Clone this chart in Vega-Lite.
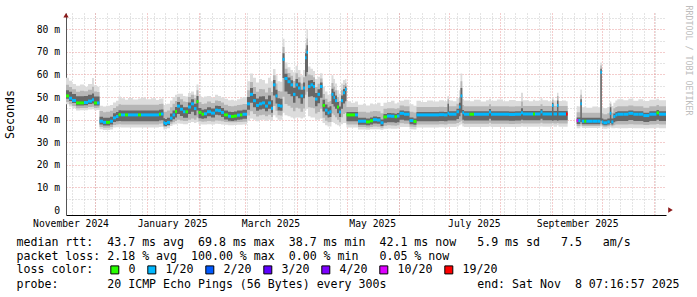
{
"$schema":"https://vega.github.io/schema/vega-lite/v6.json",
"width":600,"height":202,
"autosize":{"type":"none"},
"padding":{"left":66,"top":13,"right":31,"bottom":82},
"background":"#ffffff",
"config":{"view":{"stroke":null},"axis":{"gridOpacity":1}},
"title":{"text":["median rtt:\u00a0\u00a043.7\u00a0ms\u00a0avg\u00a0\u00a069.8\u00a0ms\u00a0max\u00a0\u00a038.7\u00a0ms\u00a0min\u00a0\u00a042.1\u00a0ms\u00a0now\u00a0\u00a0\u00a05.9\u00a0ms\u00a0sd\u00a0\u00a0\u00a07.5\u00a0\u00a0\u00a0am/s","packet\u00a0loss:\u00a02.18\u00a0%\u00a0avg\u00a0\u00a0100.00\u00a0%\u00a0max\u00a0\u00a00.00\u00a0%\u00a0min\u00a0\u00a0\u00a00.05\u00a0%\u00a0now"],
"subtitle":"probe:\u00a0\u00a0\u00a0\u00a0\u00a0\u00a0\u00a020\u00a0ICMP\u00a0Echo\u00a0Pings\u00a0(56\u00a0Bytes)\u00a0every\u00a0300s\u00a0\u00a0\u00a0\u00a0\u00a0\u00a0\u00a0\u00a0\u00a0\u00a0\u00a0\u00a0\u00a0end:\u00a0Sat\u00a0Nov\u00a0\u00a08\u00a007:16:57\u00a02025",
"orient":"bottom","anchor":"start","frame":"group","dx":-49.5,"offset":-39,"limit":1000,
"font":"DejaVu Sans Mono","fontSize":11.6,"fontWeight":"normal","color":"#000000","lineHeight":14,
"subtitleFont":"DejaVu Sans Mono","subtitleFontSize":11.6,"subtitleFontWeight":"normal","subtitleColor":"#000000","subtitleLineHeight":14,"subtitlePadding":16.4},
"data":{"values":[
{"t":"2024-11-13T07:17","m":50.5,"a":46.8,"b":47.8,"c":49.2,"d":53,"e":55.5,"f":58.5,"l":"0"},
{"t":"2024-11-15T02:00","m":49.5,"a":45.8,"b":46.8,"c":48.3,"d":52.3,"e":54.5,"f":57.2,"l":"1/20"},
{"t":"2024-11-16T22:00","m":48.5,"a":45,"b":46,"c":47.4,"d":51.4,"e":53.5,"f":55.8,"l":"1/20"},
{"t":"2024-11-19T07:00","m":47.4,"a":44,"b":45,"c":46.3,"d":50.4,"e":52.4,"f":55,"l":"0"},
{"t":"2024-11-21T17:00","m":47.4,"a":44.2,"b":45.2,"c":46.3,"d":50.4,"e":52.8,"f":55.6,"l":"0"},
{"t":"2024-11-24T02:00","m":47.6,"a":44.2,"b":45.2,"c":46.4,"d":50.5,"e":52.6,"f":54.6,"l":"1/20"},
{"t":"2024-11-26T12:00","m":48.2,"a":44.5,"b":45.6,"c":46.9,"d":51,"e":53.2,"f":55.8,"l":"1/20"},
{"t":"2024-11-28T22:00","m":48.8,"a":44.6,"b":45.7,"c":47.2,"d":51.6,"e":54.6,"f":58.4,"l":"1/20"},
{"t":"2024-11-30T02:00","m":47.4,"a":44.2,"b":45.2,"c":46.3,"d":50.3,"e":52.5,"f":55.2,"l":"0"},
{"t":"2024-12-01T22:00","m":47.4,"a":44.3,"b":45.3,"c":46.3,"d":50.2,"e":52.2,"f":54.6,"l":"1/20"},
{"t":"2024-12-03T10:00","m":39.3,"a":35.8,"b":36.8,"c":37.8,"d":41.3,"e":43.8,"f":46.2,"l":"1/20"},
{"t":"2024-12-05T12:00","m":38.8,"a":35.4,"b":36.4,"c":37.4,"d":40.8,"e":43.3,"f":45.8,"l":"1/20"},
{"t":"2024-12-07T07:00","m":38.8,"a":35.4,"b":36.4,"c":37.4,"d":40.8,"e":43.5,"f":46.2,"l":"0"},
{"t":"2024-12-09T17:00","m":39.3,"a":35.6,"b":36.7,"c":37.8,"d":41.3,"e":43.9,"f":46.5,"l":"1/20"},
{"t":"2024-12-11T12:00","m":40.8,"a":36.5,"b":37.6,"c":39,"d":42.8,"e":45.2,"f":47.6,"l":"1/20"},
{"t":"2024-12-13T07:00","m":41.4,"a":36.6,"b":37.8,"c":39.3,"d":43.4,"e":45.9,"f":48.4,"l":"1/20"},
{"t":"2024-12-14T19:00","m":42.2,"a":36.6,"b":38,"c":39.4,"d":44.2,"e":46.8,"f":50.2,"l":"0"},
{"t":"2024-12-16T07:00","m":42.1,"a":36.5,"b":37.9,"c":39.3,"d":44.1,"e":46.6,"f":49.5,"l":"1/20"},
{"t":"2024-12-18T17:00","m":42.1,"a":36.5,"b":37.9,"c":39.3,"d":44.1,"e":46.6,"f":48.8,"l":"0"},
{"t":"2024-12-20T12:00","m":42.1,"a":36.5,"b":37.9,"c":39.3,"d":44.1,"e":46.6,"f":49.6,"l":"1/20"},
{"t":"2024-12-23T12:00","m":42.1,"a":36.5,"b":37.9,"c":39.3,"d":44.1,"e":46.6,"f":48.9,"l":"1/20"},
{"t":"2024-12-26T12:00","m":42.1,"a":36.5,"b":37.9,"c":39.3,"d":44.1,"e":46.6,"f":49.4,"l":"0"},
{"t":"2024-12-28T07:00","m":42.1,"a":36.5,"b":37.9,"c":39.3,"d":44.1,"e":46.6,"f":49.8,"l":"1/20"},
{"t":"2024-12-31T07:00","m":42.1,"a":36.5,"b":37.9,"c":39.3,"d":44.1,"e":46.6,"f":49,"l":"1/20"},
{"t":"2025-01-03T07:00","m":42.1,"a":36.5,"b":37.9,"c":39.3,"d":44.1,"e":46.6,"f":49.5,"l":"1/20"},
{"t":"2025-01-06T07:00","m":42.1,"a":36.5,"b":37.9,"c":39.3,"d":44.1,"e":46.6,"f":48.7,"l":"1/20"},
{"t":"2025-01-08T02:00","m":42.4,"a":36.8,"b":38.2,"c":39.6,"d":44.4,"e":46.9,"f":49.2,"l":"0"},
{"t":"2025-01-09T07:00","m":42.5,"a":36.9,"b":38.3,"c":39.7,"d":44.5,"e":47,"f":49.4,"l":"1/20"},
{"t":"2025-01-10T19:00","m":38.6,"a":35.6,"b":36.6,"c":37.3,"d":40.6,"e":43.5,"f":46.5,"l":"1/20"},
{"t":"2025-01-11T17:00","m":38.3,"a":35.8,"b":36.8,"c":37.2,"d":40.3,"e":43.5,"f":46.8,"l":"1/20"},
{"t":"2025-01-12T22:00","m":38.8,"a":36.2,"b":37.2,"c":37.6,"d":40.8,"e":44,"f":47,"l":"1/20"},
{"t":"2025-01-14T17:00","m":40.7,"a":37.2,"b":38.2,"c":39.2,"d":42.7,"e":45.5,"f":48.5,"l":"1/20"},
{"t":"2025-01-16T05:00","m":42.1,"a":37.8,"b":38.9,"c":40.2,"d":44.1,"e":47,"f":50,"l":"1/20"},
{"t":"2025-01-17T17:00","m":43.6,"a":38,"b":39.4,"c":41,"d":45.6,"e":48.3,"f":51,"l":"0"},
{"t":"2025-01-18T22:00","m":46,"a":38.3,"b":40,"c":42.5,"d":47.8,"e":50,"f":51.5,"l":"1/20"},
{"t":"2025-01-20T17:00","m":44.6,"a":38.2,"b":39.6,"c":41.6,"d":46.6,"e":49,"f":51.5,"l":"1/20"},
{"t":"2025-01-22T12:00","m":43.5,"a":38,"b":39.4,"c":40.8,"d":45.5,"e":48,"f":50.5,"l":"1/20"},
{"t":"2025-01-24T00:00","m":43.5,"a":38,"b":39.4,"c":40.8,"d":45.5,"e":47.8,"f":50.2,"l":"0"},
{"t":"2025-01-25T12:00","m":45.6,"a":38.5,"b":40,"c":42.5,"d":47.6,"e":50,"f":51.8,"l":"1/20"},
{"t":"2025-01-27T07:00","m":47,"a":39,"b":40.5,"c":43.5,"d":49,"e":51,"f":52.5,"l":"1/20"},
{"t":"2025-01-29T02:00","m":44.9,"a":38.5,"b":40,"c":42,"d":47,"e":49.5,"f":51,"l":"1/20"},
{"t":"2025-01-30T14:00","m":48,"a":39,"b":41,"c":44,"d":50.5,"e":53,"f":55.6,"l":"0"},
{"t":"2025-01-31T19:00","m":43.2,"a":38,"b":39.3,"c":40.6,"d":45.2,"e":47.8,"f":50.5,"l":"0"},
{"t":"2025-02-02T14:00","m":42.4,"a":37.8,"b":39.1,"c":40.4,"d":44.4,"e":46.9,"f":49.8,"l":"0"},
{"t":"2025-02-04T02:00","m":42.6,"a":37.9,"b":39.2,"c":40.6,"d":44.6,"e":47.1,"f":50.3,"l":"1/20"},
{"t":"2025-02-05T22:00","m":43.5,"a":38,"b":39.4,"c":41.5,"d":45.5,"e":48,"f":50.5,"l":"1/20"},
{"t":"2025-02-08T07:00","m":42.9,"a":37.8,"b":39.2,"c":40.9,"d":44.9,"e":47.4,"f":49.6,"l":"1/20"},
{"t":"2025-02-10T17:00","m":44.2,"a":38.2,"b":39.6,"c":42.2,"d":46.2,"e":48.5,"f":51,"l":"1/20"},
{"t":"2025-02-12T12:00","m":44,"a":38.1,"b":39.5,"c":42,"d":46,"e":48.3,"f":50.5,"l":"1/20"},
{"t":"2025-02-14T07:00","m":43.2,"a":37.9,"b":39.3,"c":41.2,"d":45.2,"e":47.6,"f":49.8,"l":"1/20"},
{"t":"2025-02-16T02:00","m":42.1,"a":37.7,"b":39,"c":40.1,"d":44.1,"e":46.6,"f":49.2,"l":"0"},
{"t":"2025-02-18T12:00","m":41.5,"a":37.5,"b":38.8,"c":39.5,"d":43.5,"e":46,"f":48.6,"l":"1/20"},
{"t":"2025-02-20T07:00","m":41.4,"a":37.5,"b":38.8,"c":39.4,"d":43.4,"e":45.9,"f":48.8,"l":"0"},
{"t":"2025-02-22T02:00","m":41.6,"a":37.6,"b":38.9,"c":39.6,"d":43.6,"e":46.1,"f":48.4,"l":"0"},
{"t":"2025-02-23T22:00","m":42,"a":37.7,"b":39,"c":40,"d":44,"e":46.5,"f":49,"l":"1/20"},
{"t":"2025-02-25T17:00","m":42.1,"a":37.7,"b":39,"c":40.1,"d":44.1,"e":46.6,"f":49.5,"l":"0"},
{"t":"2025-02-27T05:00","m":42.4,"a":37.8,"b":39.1,"c":40.4,"d":44.4,"e":46.9,"f":50,"l":"1/20"},
{"t":"2025-03-01T22:00","m":47,"a":39.5,"b":41.8,"c":44.4,"d":50,"e":53,"f":57,"l":"1/20"},
{"t":"2025-03-03T17:00","m":51.2,"a":40.5,"b":43.7,"c":47.5,"d":54,"e":56.7,"f":60.4,"l":"1/20"},
{"t":"2025-03-05T12:00","m":48.4,"a":40,"b":42.5,"c":45.5,"d":51.4,"e":54.5,"f":58.5,"l":"1/20"},
{"t":"2025-03-07T07:00","m":46.3,"a":39.3,"b":41.4,"c":43.9,"d":49.4,"e":52.4,"f":56.5,"l":"1/20"},
{"t":"2025-03-09T02:00","m":47,"a":39.8,"b":42,"c":44.5,"d":50.3,"e":53.6,"f":58,"l":"1/20"},
{"t":"2025-03-10T22:00","m":47.4,"a":40,"b":42.2,"c":44.8,"d":50.4,"e":53.5,"f":57.5,"l":"1/20"},
{"t":"2025-03-12T17:00","m":46,"a":39.5,"b":41.5,"c":43.7,"d":49,"e":52,"f":56,"l":"1/20"},
{"t":"2025-03-14T12:00","m":47.4,"a":40,"b":42.2,"c":44.8,"d":50.7,"e":54.1,"f":58.5,"l":"1/20"},
{"t":"2025-03-16T07:00","m":45,"a":39.5,"b":41.2,"c":43.1,"d":48.6,"e":52.2,"f":57,"l":"1/20"},
{"t":"2025-03-17T12:00","m":55.4,"a":42,"b":46,"c":50.7,"d":57.5,"e":59.6,"f":62.4,"l":"1/20"},
{"t":"2025-03-19T00:00","m":50.5,"a":41,"b":43.9,"c":47.2,"d":53.2,"e":56,"f":59.6,"l":"1/20"},
{"t":"2025-03-20T05:00","m":46.3,"a":40,"b":41.9,"c":44.1,"d":49.5,"e":52.7,"f":57,"l":"1/20"},
{"t":"2025-03-21T17:00","m":46,"a":40,"b":41.8,"c":43.9,"d":49.2,"e":52.5,"f":56.8,"l":"1/20"},
{"t":"2025-03-23T05:00","m":66.7,"a":43,"b":50.1,"c":58.4,"d":69.4,"e":72.2,"f":75.8,"l":"1/20"},
{"t":"2025-03-24T10:00","m":58.2,"a":42,"b":46.9,"c":52.5,"d":60.3,"e":62.5,"f":65.3,"l":"1/20"},
{"t":"2025-03-26T05:00","m":56.8,"a":41.5,"b":46.1,"c":51.4,"d":58.7,"e":60.6,"f":63.2,"l":"1/20"},
{"t":"2025-03-28T00:00","m":55.4,"a":41,"b":45.3,"c":50.4,"d":57.4,"e":59.4,"f":62,"l":"1/20"},
{"t":"2025-03-29T12:00","m":51.2,"a":40.5,"b":43.7,"c":47.5,"d":54.1,"e":57.1,"f":61,"l":"1/20"},
{"t":"2025-03-31T00:00","m":55.4,"a":41,"b":45.3,"c":50.4,"d":58,"e":60.5,"f":63.9,"l":"1/20"},
{"t":"2025-04-01T12:00","m":54,"a":41,"b":44.9,"c":49.5,"d":56.4,"e":58.8,"f":62,"l":"1/20"},
{"t":"2025-04-03T00:00","m":50.5,"a":40.5,"b":43.5,"c":47,"d":53.2,"e":56,"f":59.6,"l":"1/20"},
{"t":"2025-04-04T12:00","m":54,"a":41,"b":44.9,"c":49.5,"d":56.4,"e":58.8,"f":62,"l":"1/20"},
{"t":"2025-04-05T17:00","m":67.4,"a":44,"b":51,"c":59.2,"d":69.4,"e":71.4,"f":74,"l":"1/20"},
{"t":"2025-04-06T14:00","m":69.8,"a":45,"b":52.4,"c":61.1,"d":72.9,"e":75.9,"f":80,"l":"1/20"},
{"t":"2025-04-07T12:00","m":54.7,"a":41.5,"b":45.5,"c":50.1,"d":57.3,"e":60,"f":63.5,"l":"1/20"},
{"t":"2025-04-09T00:00","m":55.4,"a":41,"b":45.3,"c":50.4,"d":57.5,"e":59.7,"f":62.5,"l":"1/20"},
{"t":"2025-04-10T12:00","m":54.7,"a":41,"b":45.1,"c":49.9,"d":56.7,"e":58.8,"f":61.5,"l":"1/20"},
{"t":"2025-04-11T17:00","m":49.1,"a":40,"b":42.7,"c":45.9,"d":51.8,"e":54.4,"f":58,"l":"1/20"},
{"t":"2025-04-13T05:00","m":51.2,"a":40,"b":43.4,"c":47.3,"d":53.5,"e":55.9,"f":59,"l":"1/20"},
{"t":"2025-04-14T17:00","m":54.7,"a":40.5,"b":44.8,"c":49.7,"d":56.4,"e":58.2,"f":60.5,"l":"1/20"},
{"t":"2025-04-16T05:00","m":46.3,"a":38.5,"b":40.8,"c":43.6,"d":48.8,"e":51.3,"f":54.7,"l":"0"},
{"t":"2025-04-17T17:00","m":44.2,"a":37.5,"b":39.5,"c":41.9,"d":46.7,"e":49.2,"f":52.5,"l":"1/20"},
{"t":"2025-04-19T05:00","m":43,"a":37,"b":38.8,"c":40.9,"d":45.4,"e":47.8,"f":51,"l":"1/20"},
{"t":"2025-04-20T10:00","m":43.5,"a":37,"b":39,"c":41.2,"d":45.9,"e":48.3,"f":51.5,"l":"1/20"},
{"t":"2025-04-21T14:00","m":51.2,"a":39,"b":42.7,"c":46.9,"d":53.7,"e":56.2,"f":59.6,"l":"1/20"},
{"t":"2025-04-22T19:00","m":49.8,"a":38.5,"b":41.9,"c":45.8,"d":52.3,"e":54.7,"f":58,"l":"1/20"},
{"t":"2025-04-23T17:00","m":48.4,"a":38,"b":41.1,"c":44.8,"d":50.7,"e":53,"f":56,"l":"1/20"},
{"t":"2025-04-24T22:00","m":45.6,"a":37.5,"b":39.9,"c":42.8,"d":47.8,"e":50,"f":53,"l":"0"},
{"t":"2025-04-26T02:00","m":43.4,"a":37,"b":38.9,"c":41.2,"d":45.8,"e":48.3,"f":51.5,"l":"1/20"},
{"t":"2025-04-27T07:00","m":48.4,"a":38,"b":41.1,"c":44.8,"d":50.7,"e":53,"f":56,"l":"1/20"},
{"t":"2025-04-28T12:00","m":51.9,"a":38.5,"b":42.5,"c":47.2,"d":53.6,"e":55.3,"f":57.5,"l":"1/20"},
{"t":"2025-04-29T17:00","m":53.3,"a":38.5,"b":42.9,"c":48.1,"d":54.7,"e":56.1,"f":58,"l":"1/20"},
{"t":"2025-04-30T14:00","m":42.1,"a":36.5,"b":37.9,"c":39.3,"d":43.4,"e":45.6,"f":48.2,"l":"0"},
{"t":"2025-05-03T07:00","m":42.1,"a":36.5,"b":37.9,"c":39.3,"d":43.4,"e":45.6,"f":47.5,"l":"0"},
{"t":"2025-05-05T17:00","m":42.1,"a":36.5,"b":37.9,"c":39.3,"d":43.4,"e":45.6,"f":48,"l":"1/20"},
{"t":"2025-05-07T12:00","m":39.3,"a":35.6,"b":36.7,"c":37.7,"d":40.8,"e":43.5,"f":46.6,"l":"1/20"},
{"t":"2025-05-10T12:00","m":39.3,"a":35.6,"b":36.7,"c":37.7,"d":40.8,"e":43.5,"f":47,"l":"1/20"},
{"t":"2025-05-12T07:00","m":39,"a":35.5,"b":36.5,"c":37.5,"d":40.5,"e":43.2,"f":46.3,"l":"0"},
{"t":"2025-05-14T17:00","m":39.5,"a":35.7,"b":36.8,"c":37.9,"d":41,"e":43.6,"f":47.2,"l":"0"},
{"t":"2025-05-16T12:00","m":40,"a":35.8,"b":37,"c":38.3,"d":41.4,"e":43.8,"f":46.8,"l":"1/20"},
{"t":"2025-05-18T22:00","m":39.8,"a":35.8,"b":36.9,"c":38.2,"d":41.2,"e":43.7,"f":47.5,"l":"1/20"},
{"t":"2025-05-21T00:00","m":38.6,"a":35.5,"b":36.4,"c":37.2,"d":40.1,"e":42.8,"f":46,"l":"1/20"},
{"t":"2025-05-22T19:00","m":41.2,"a":36,"b":37.3,"c":38.6,"d":42.5,"e":44.8,"f":47.5,"l":"0"},
{"t":"2025-05-24T22:00","m":41.6,"a":36.1,"b":37.5,"c":38.9,"d":42.9,"e":45.1,"f":47.8,"l":"1/20"},
{"t":"2025-05-27T07:00","m":41.5,"a":36,"b":37.4,"c":38.8,"d":42.8,"e":45,"f":48.4,"l":"1/20"},
{"t":"2025-05-29T10:00","m":41.3,"a":36,"b":37.3,"c":38.6,"d":42.6,"e":44.8,"f":47.2,"l":"0"},
{"t":"2025-05-30T22:00","m":41.6,"a":36.1,"b":37.5,"c":38.9,"d":42.9,"e":45.1,"f":47.6,"l":"1/20"},
{"t":"2025-06-01T10:00","m":42.8,"a":36.8,"b":38.4,"c":40,"d":44.1,"e":46.3,"f":48.4,"l":"1/20"},
{"t":"2025-06-04T02:00","m":42.4,"a":36.8,"b":38.2,"c":39.6,"d":43.7,"e":45.9,"f":48.8,"l":"1/20"},
{"t":"2025-06-07T10:00","m":39.6,"a":35.8,"b":36.9,"c":38,"d":40.9,"e":43.5,"f":46.8,"l":"1/20"},
{"t":"2025-06-09T19:00","m":39.2,"a":35.6,"b":36.7,"c":37.7,"d":40.5,"e":43.2,"f":46.2,"l":"0"},
{"t":"2025-06-11T14:00","m":42.1,"a":36.5,"b":37.9,"c":39.3,"d":43.4,"e":45.6,"f":48.4,"l":"1/20"},
{"t":"2025-06-14T07:00","m":42.1,"a":36.5,"b":37.9,"c":39.3,"d":43.4,"e":45.6,"f":47.8,"l":"1/20"},
{"t":"2025-06-17T22:00","m":42.1,"a":36.5,"b":37.9,"c":39.3,"d":43.4,"e":45.6,"f":48.5,"l":"1/20"},
{"t":"2025-06-21T12:00","m":42.1,"a":36.5,"b":37.9,"c":39.3,"d":43.4,"e":45.6,"f":48,"l":"1/20"},
{"t":"2025-06-25T02:00","m":42.2,"a":36.6,"b":38,"c":39.4,"d":43.5,"e":45.7,"f":48.6,"l":"1/20"},
{"t":"2025-06-28T02:00","m":42.1,"a":36.5,"b":37.9,"c":39.3,"d":43.4,"e":45.6,"f":48.2,"l":"1/20"},
{"t":"2025-06-30T05:00","m":42.8,"a":36.8,"b":38.2,"c":39.6,"d":47,"e":49,"f":50.5,"l":"1/20"},
{"t":"2025-07-01T02:00","m":42.4,"a":36.8,"b":38.2,"c":39.6,"d":43.7,"e":45.9,"f":48.5,"l":"1/20"},
{"t":"2025-07-03T12:00","m":42.4,"a":36.8,"b":38.2,"c":39.6,"d":43.7,"e":45.9,"f":48.2,"l":"1/20"},
{"t":"2025-07-05T14:00","m":43.5,"a":37,"b":38.5,"c":40.3,"d":44.8,"e":47,"f":49.5,"l":"1/20"},
{"t":"2025-07-07T02:00","m":45.6,"a":37.5,"b":39,"c":41.5,"d":47.5,"e":50,"f":53,"l":"1/20"},
{"t":"2025-07-08T00:00","m":50.5,"a":38,"b":39.5,"c":43,"d":54,"e":57,"f":60.4,"l":"1/20"},
{"t":"2025-07-09T02:00","m":43,"a":37,"b":38.4,"c":40,"d":44.3,"e":46.5,"f":49,"l":"1/20"},
{"t":"2025-07-10T02:00","m":42.4,"a":36.8,"b":38.2,"c":39.6,"d":43.7,"e":45.9,"f":48.5,"l":"1/20"},
{"t":"2025-07-13T10:00","m":42.4,"a":36.8,"b":38.2,"c":39.6,"d":43.7,"e":45.9,"f":48.2,"l":"0"},
{"t":"2025-07-16T02:00","m":42.4,"a":36.8,"b":38.2,"c":39.6,"d":43.7,"e":45.9,"f":48.8,"l":"1/20"},
{"t":"2025-07-19T17:00","m":42.4,"a":36.8,"b":38.2,"c":39.6,"d":43.7,"e":45.9,"f":48,"l":"1/20"},
{"t":"2025-07-23T07:00","m":42.4,"a":36.8,"b":38.2,"c":39.6,"d":43.7,"e":45.9,"f":48.6,"l":"1/20"},
{"t":"2025-07-25T02:00","m":43.4,"a":37,"b":38.6,"c":40.4,"d":44.7,"e":46.8,"f":49.2,"l":"1/20"},
{"t":"2025-07-26T07:00","m":42.4,"a":36.8,"b":38.2,"c":39.6,"d":43.7,"e":45.9,"f":48.4,"l":"1/20"},
{"t":"2025-07-29T22:00","m":42.4,"a":36.8,"b":38.2,"c":39.6,"d":43.7,"e":45.9,"f":48.9,"l":"1/20"},
{"t":"2025-08-02T12:00","m":42.4,"a":36.8,"b":38.2,"c":39.6,"d":43.7,"e":45.9,"f":48.2,"l":"1/20"},
{"t":"2025-08-06T02:00","m":42.3,"a":36.7,"b":38.1,"c":39.5,"d":43.6,"e":45.8,"f":48.7,"l":"1/20"},
{"t":"2025-08-09T17:00","m":42.4,"a":36.8,"b":38.2,"c":39.6,"d":43.7,"e":45.9,"f":48.3,"l":"1/20"},
{"t":"2025-08-13T07:00","m":43,"a":37,"b":38.4,"c":40,"d":45,"e":48,"f":51.9,"l":"1/20"},
{"t":"2025-08-14T12:00","m":42.5,"a":36.9,"b":38.3,"c":39.7,"d":43.8,"e":46,"f":48.6,"l":"1/20"},
{"t":"2025-08-18T02:00","m":42.5,"a":36.9,"b":38.3,"c":39.7,"d":43.8,"e":46,"f":48.2,"l":"1/20"},
{"t":"2025-08-20T12:00","m":42.5,"a":36.9,"b":38.3,"c":39.7,"d":43.8,"e":46,"f":48.8,"l":"0"},
{"t":"2025-08-21T17:00","m":42.5,"a":36.9,"b":38.3,"c":39.7,"d":43.8,"e":46,"f":48.4,"l":"1/20"},
{"t":"2025-08-25T00:00","m":43.4,"a":37,"b":38.6,"c":40.4,"d":44.7,"e":46.8,"f":49.5,"l":"1/20"},
{"t":"2025-08-26T05:00","m":42.5,"a":36.9,"b":38.3,"c":39.7,"d":43.8,"e":46,"f":48.6,"l":"1/20"},
{"t":"2025-08-29T12:00","m":42.5,"a":36.9,"b":38.3,"c":39.7,"d":43.8,"e":46,"f":48.2,"l":"1/20"},
{"t":"2025-08-31T22:00","m":46.3,"a":37.5,"b":38.5,"c":39.5,"d":47.5,"e":48.8,"f":49.8,"l":"1/20"},
{"t":"2025-09-01T19:00","m":42.5,"a":36.9,"b":38.3,"c":39.7,"d":43.8,"e":46,"f":48.5,"l":"1/20"},
{"t":"2025-09-03T22:00","m":46.3,"a":37.5,"b":38.5,"c":39.5,"d":48.5,"e":50.5,"f":51.9,"l":"1/20"},
{"t":"2025-09-04T19:00","m":42.5,"a":36.9,"b":38.3,"c":39.7,"d":43.8,"e":46,"f":48.3,"l":"1/20"},
{"t":"2025-09-07T12:00","m":42.5,"a":36.9,"b":38.3,"c":39.7,"d":43.8,"e":46,"f":48.5,"l":"1/20"},
{"t":"2025-09-09T07:00","m":42.5,"a":36.9,"b":38.3,"c":39.7,"d":43.8,"e":46,"f":48.2,"l":"19/20"},
{"t":"2025-09-10T07:00","m":null,"a":36.9,"b":38.3,"c":39.7,"d":43.8,"e":46,"f":48.2,"l":"1/20"},
{"t":"2025-09-12T00:00","m":null,"a":null,"b":null,"c":null,"d":null,"e":null,"f":null,"l":"1/20"},
{"t":"2025-09-15T17:00","m":39.6,"a":36.2,"b":37.2,"c":38.1,"d":41,"e":43.3,"f":46,"l":"10/20"},
{"t":"2025-09-16T17:00","m":39.6,"a":36.2,"b":37.2,"c":38.1,"d":41,"e":43.3,"f":45.8,"l":"1/20"},
{"t":"2025-09-17T22:00","m":47,"a":37,"b":38,"c":39,"d":49,"e":51,"f":53.3,"l":"1/20"},
{"t":"2025-09-18T19:00","m":39.3,"a":36.3,"b":37.2,"c":38,"d":40.8,"e":43,"f":45.5,"l":"1/20"},
{"t":"2025-09-20T07:00","m":39.3,"a":36.3,"b":37.2,"c":38,"d":40.8,"e":43,"f":45.8,"l":"0"},
{"t":"2025-09-21T12:00","m":39.3,"a":36.3,"b":37.2,"c":38,"d":40.8,"e":43,"f":45.3,"l":"1/20"},
{"t":"2025-09-25T02:00","m":39.3,"a":36.3,"b":37.2,"c":38,"d":40.8,"e":43,"f":45.8,"l":"1/20"},
{"t":"2025-09-28T02:00","m":39.3,"a":36.3,"b":37.2,"c":38,"d":40.8,"e":43,"f":45.5,"l":"1/20"},
{"t":"2025-09-29T22:00","m":61,"a":37,"b":38,"c":39.5,"d":62.5,"e":64,"f":65.3,"l":"1/20"},
{"t":"2025-09-30T19:00","m":39,"a":36.2,"b":37.1,"c":37.8,"d":40.5,"e":42.8,"f":45.5,"l":"1/20"},
{"t":"2025-10-01T17:00","m":38.6,"a":36,"b":36.9,"c":37.5,"d":40.1,"e":42.4,"f":45,"l":"1/20"},
{"t":"2025-10-04T02:00","m":39,"a":36.2,"b":37.1,"c":37.8,"d":40.5,"e":42.8,"f":45.6,"l":"1/20"},
{"t":"2025-10-05T14:00","m":42.8,"a":36.5,"b":37.5,"c":38.5,"d":45.5,"e":47,"f":48,"l":"1/20"},
{"t":"2025-10-06T12:00","m":39,"a":36.2,"b":37.1,"c":37.8,"d":40.5,"e":43,"f":46,"l":"1/20"},
{"t":"2025-10-07T17:00","m":41.4,"a":36.2,"b":37.5,"c":38.8,"d":42.7,"e":45,"f":47.5,"l":"1/20"},
{"t":"2025-10-08T22:00","m":42.1,"a":36.3,"b":37.8,"c":39.3,"d":43.4,"e":45.6,"f":48.5,"l":"1/20"},
{"t":"2025-10-10T02:00","m":42.4,"a":36.2,"b":37.8,"c":39.4,"d":43.7,"e":45.9,"f":49,"l":"1/20"},
{"t":"2025-10-13T17:00","m":42.4,"a":36.2,"b":37.8,"c":39.4,"d":43.7,"e":45.9,"f":48.6,"l":"1/20"},
{"t":"2025-10-16T17:00","m":42.8,"a":36.3,"b":38,"c":39.8,"d":44.1,"e":46.3,"f":49.2,"l":"1/20"},
{"t":"2025-10-19T17:00","m":42.4,"a":36.2,"b":37.8,"c":39.4,"d":43.7,"e":45.9,"f":48.4,"l":"1/20"},
{"t":"2025-10-22T17:00","m":42.4,"a":36.2,"b":37.8,"c":39.4,"d":43.7,"e":45.9,"f":49,"l":"1/20"},
{"t":"2025-10-25T17:00","m":41.8,"a":36.1,"b":37.6,"c":39,"d":43.1,"e":45.3,"f":48.3,"l":"1/20"},
{"t":"2025-10-29T07:00","m":42.4,"a":36.2,"b":37.8,"c":39.4,"d":43.7,"e":45.9,"f":48.8,"l":"1/20"},
{"t":"2025-11-02T14:00","m":43,"a":36.4,"b":38.1,"c":40,"d":44.3,"e":46.5,"f":49.3,"l":"0"},
{"t":"2025-11-04T02:00","m":42.4,"a":36.2,"b":37.8,"c":39.4,"d":43.7,"e":45.9,"f":48.6,"l":"1/20"},
{"t":"2025-11-08T07:17","m":null,"a":36.2,"b":37.8,"c":39.4,"d":43.7,"e":45.9,"f":48.6,"l":"1/20"}
]},
"layer":[
{"mark":{"type":"area","interpolate":"step-after","color":"#dcdcdc","invalid":"break-paths-show-domains"},
 "encoding":{
  "x":{"field":"t","type":"temporal","scale":{"domain":[{"year":2024,"month":11,"date":13,"hours":7,"minutes":17},{"year":2025,"month":11,"date":8,"hours":7,"minutes":17}],"nice":false},
   "axis":{"orient":"bottom","grid":true,"gridColor":"#c8c8c8","gridDash":[1,2],"labels":false,"ticks":false,"domain":false,"title":null,"tickCount":{"interval":"week","step":1}}},
  "y":{"field":"a","type":"quantitative","scale":{"domain":[0,85],"nice":false,"zero":false},
   "axis":{"orient":"left","values":[5,15,25,35,45,55,65,75,85],"grid":true,"gridColor":"#c8c8c8","gridDash":[1,2],"labels":false,"ticks":false,"domain":false,"title":null}},
  "y2":{"field":"f"}}},
{"mark":{"type":"area","interpolate":"step-after","color":"#b6b6b6","invalid":"break-paths-show-domains"},
 "encoding":{
  "x":{"field":"t","type":"temporal","scale":{"domain":[{"year":2024,"month":11,"date":13,"hours":7,"minutes":17},{"year":2025,"month":11,"date":8,"hours":7,"minutes":17}],"nice":false},
   "axis":{"orient":"bottom","grid":true,"gridColor":"#e89a9a","gridDash":[1,2],"labels":false,"ticks":false,"domain":false,"title":null,
    "values":[{"year":2024,"month":12,"date":1},{"year":2025,"month":1,"date":1},{"year":2025,"month":2,"date":1},{"year":2025,"month":3,"date":1},{"year":2025,"month":4,"date":1},{"year":2025,"month":5,"date":1},{"year":2025,"month":6,"date":1},{"year":2025,"month":7,"date":1},{"year":2025,"month":8,"date":1},{"year":2025,"month":9,"date":1},{"year":2025,"month":10,"date":1},{"year":2025,"month":11,"date":1}]}},
  "y":{"field":"b","type":"quantitative","scale":{"domain":[0,85],"nice":false,"zero":false},
   "axis":{"orient":"left","values":[10,20,30,40,50,60,70,80],"grid":true,"gridColor":"#e89a9a","gridDash":[1,2],"labels":false,"ticks":false,"domain":false,"title":null}},
  "y2":{"field":"e"}}},
{"mark":{"type":"area","interpolate":"step-after","color":"#676767","invalid":"break-paths-show-domains"},
 "encoding":{
  "x":{"field":"t","type":"temporal","scale":{"domain":[{"year":2024,"month":11,"date":13,"hours":7,"minutes":17},{"year":2025,"month":11,"date":8,"hours":7,"minutes":17}],"nice":false},
   "axis":{"orient":"bottom","grid":false,"ticks":false,"domain":true,"domainColor":"#000000","domainWidth":1,"title":null,"format":"%B %Y","labelFont":"DejaVu Sans Mono","labelFontSize":9.7,"labelColor":"#000000","labelPadding":3,"labelOverlap":false,"labelFlush":false,"labelBound":false,
    "values":[{"year":2024,"month":11,"date":16},{"year":2025,"month":1,"date":16},{"year":2025,"month":3,"date":16},{"year":2025,"month":5,"date":16},{"year":2025,"month":7,"date":16},{"year":2025,"month":9,"date":16}]}},
  "y":{"field":"c","type":"quantitative","scale":{"domain":[0,85],"nice":false,"zero":false},
   "axis":{"orient":"left","values":[0,10,20,30,40,50,60,70,80],"labelExpr":"datum.value == 0 ? '0' : datum.value + ' m'","grid":false,"ticks":false,"domain":true,"domainColor":"#555555","labelFont":"DejaVu Sans Mono","labelFontSize":9.7,"labelColor":"#000000","labelPadding":6.5,
    "title":"Seconds","titleFont":"DejaVu Sans Mono","titleFontSize":11.6,"titleFontWeight":"normal","titleColor":"#000000","titleAngle":270,"titleX":-55.5,"titleY":101,"titleAlign":"center","titleBaseline":"middle"}},
  "y2":{"field":"d"}}},
{"transform":[{"window":[{"op":"lead","field":"t","as":"t2"}],"sort":[{"field":"t","order":"ascending"}]}],
 "mark":{"type":"bar","height":3},
 "encoding":{
  "x":{"field":"t","type":"temporal","scale":{"domain":[{"year":2024,"month":11,"date":13,"hours":7,"minutes":17},{"year":2025,"month":11,"date":8,"hours":7,"minutes":17}],"nice":false},"axis":null},
  "x2":{"field":"t2"},
  "y":{"field":"m","type":"quantitative","scale":{"domain":[0,85],"nice":false,"zero":false},
   "axis":{"orient":"right","title":"RRDTOOL / TOBI OETIKER","labels":false,"ticks":false,"domain":false,"grid":false,"titleAngle":90,"titleX":21,"titleY":47,"titleAlign":"center","titleBaseline":"middle","titleFont":"DejaVu Sans Mono","titleFontSize":8.3,"titleFontWeight":"normal","titleColor":"#bdbdbd"}},
  "color":{"field":"l","type":"nominal",
   "scale":{"domain":["0","1/20","2/20","3/20","4/20","10/20","19/20"],"range":["#26ff00","#00b8ff","#0059ff","#5e00ff","#7e00ff","#dd00ff","#ff0000"]},
   "legend":{"title":"loss color:","titleOrient":"left","titleFont":"DejaVu Sans Mono","titleFontSize":11.6,"titleFontWeight":"normal","titleColor":"#000000","titlePadding":15.5,
    "orient":"none","legendX":-49.5,"legendY":251,"direction":"horizontal","symbolType":"square","symbolSize":64,"symbolStrokeColor":"#000000","symbolStrokeWidth":1,"symbolOpacity":1,"labelFont":"DejaVu Sans Mono","labelFontSize":11.6,"labelColor":"#000000","labelOffset":8,"columnPadding":9,"padding":0}}}},
{"data":{"values":[{}]},
 "mark":{"type":"point","shape":"triangle-right","filled":true,"size":28,"color":"#8b1a1a","opacity":1,"clip":false},
 "encoding":{
  "x":{"datum":{"year":2025,"month":11,"date":11},"type":"temporal","scale":{"domain":[{"year":2024,"month":11,"date":13,"hours":7,"minutes":17},{"year":2025,"month":11,"date":8,"hours":7,"minutes":17}],"nice":false},"axis":null},
  "y":{"datum":0,"type":"quantitative","scale":{"domain":[0,85],"nice":false,"zero":false},"axis":null}}},
{"data":{"values":[{}]},
 "mark":{"type":"point","shape":"triangle-up","filled":true,"size":28,"color":"#8b1a1a","opacity":1,"clip":false},
 "encoding":{
  "x":{"datum":{"year":2024,"month":11,"date":13,"hours":7,"minutes":17},"type":"temporal","scale":{"domain":[{"year":2024,"month":11,"date":13,"hours":7,"minutes":17},{"year":2025,"month":11,"date":8,"hours":7,"minutes":17}],"nice":false},"axis":null},
  "y":{"datum":86.2,"type":"quantitative","scale":{"domain":[0,85],"nice":false,"zero":false},"axis":null}}}
],
"resolve":{"axis":{"x":"independent","y":"independent"}}
}
